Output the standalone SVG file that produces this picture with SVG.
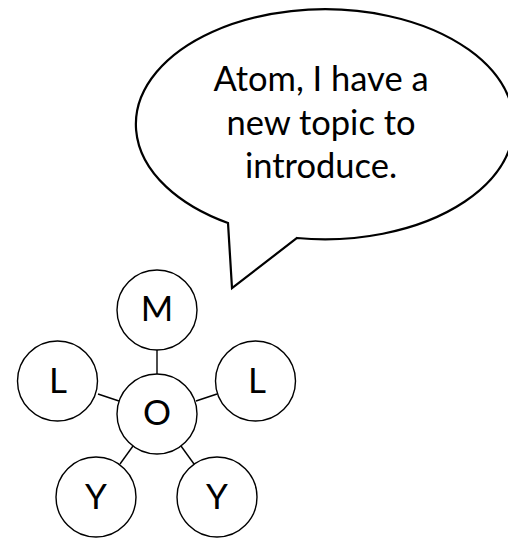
<svg xmlns="http://www.w3.org/2000/svg" width="508" height="538" viewBox="0 0 508 538">
<style>
.node circle{fill:#fff;stroke:#000;stroke-width:1.4}
.node text{font-family:Lato,"Open Sans","Liberation Sans",sans-serif;font-size:35px;fill:#000;text-anchor:middle}
.conn line{stroke:#000;stroke-width:1.4}
.bubble path{fill:#fff;stroke:#000;stroke-width:2.2;stroke-linejoin:miter}
.bubble text{font-family:Lato,"Open Sans","Liberation Sans",sans-serif;font-size:34.5px;fill:#000;text-anchor:middle}
</style>
<rect width="508" height="538" fill="#fff"/>
<g id="bubble" class="bubble">
<path d="M297,238 A189,115 0 1 0 228,223 L232,288 Z"/>
<text x="321" y="91">Atom, I have a</text>
<text x="321" y="134.5">new topic to</text>
<text x="321" y="178">introduce.</text>
</g>
<g id="connectors" class="conn">
<line x1="157" y1="350" x2="157" y2="374"/>
<line x1="98" y1="394" x2="119" y2="401"/>
<line x1="196" y1="401" x2="217" y2="394"/>
<line x1="133" y1="446" x2="120" y2="464"/>
<line x1="181" y1="446" x2="194" y2="464"/>
</g>
<g id="node-M" class="node"><circle cx="157" cy="310" r="40"/><text x="157" y="321">M</text></g>
<g id="node-L1" class="node"><circle cx="57.5" cy="381" r="40"/><text x="58" y="393">L</text></g>
<g id="node-L2" class="node"><circle cx="255.5" cy="381" r="40"/><text x="257" y="393">L</text></g>
<g id="node-O" class="node"><circle cx="157" cy="414" r="40"/><text x="157" y="425">O</text></g>
<g id="node-Y1" class="node"><circle cx="96" cy="497" r="40"/><text x="96" y="509">Y</text></g>
<g id="node-Y2" class="node"><circle cx="217" cy="497" r="40"/><text x="217" y="509">Y</text></g>
</svg>
